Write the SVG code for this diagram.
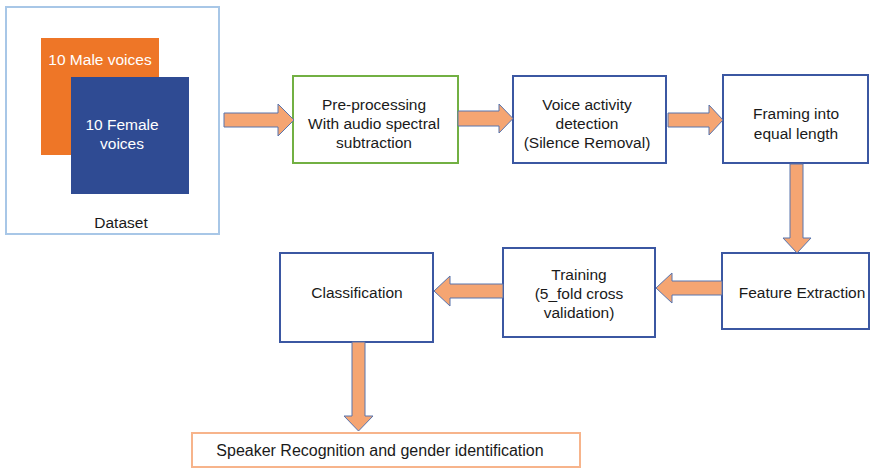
<svg xmlns="http://www.w3.org/2000/svg" width="883" height="469" viewBox="0 0 883 469">
<style>
text{font-family:"Liberation Sans",Arial,sans-serif;font-size:15.5px;fill:#1a1a1a;text-anchor:middle}
.w{fill:#ffffff}
.box{fill:#ffffff;stroke:#3b57a2;stroke-width:2}
.arrow{fill:#f5a572;stroke:#5874ad;stroke-width:1}
</style>
<rect width="883" height="469" fill="#ffffff"/>
<g id="dataset">
<rect x="6" y="7" width="213" height="227" fill="#ffffff" stroke="#a8c7e7" stroke-width="2"/>
<g id="male">
<rect x="41" y="38" width="118" height="117" fill="#ee7627"/>
<text class="w" x="100" y="65">10 Male voices</text>
</g>
<g id="female">
<rect x="71" y="77" width="118" height="117" fill="#2f4b93"/>
<text class="w" x="122" y="130">10 Female</text>
<text class="w" x="122" y="149">voices</text>
</g>
<text x="121" y="228">Dataset</text>
</g>
<g id="preprocessing">
<rect x="293" y="76" width="165" height="87" fill="#ffffff" stroke="#72b043" stroke-width="2"/>
<text x="374" y="110">Pre-processing</text>
<text x="374" y="129">With audio spectral</text>
<text x="374" y="148">subtraction</text>
</g>
<g id="vad">
<rect class="box" x="513" y="76" width="153" height="87"/>
<text x="587" y="110">Voice activity</text>
<text x="587" y="129">detection</text>
<text x="587" y="148">(Silence Removal)</text>
</g>
<g id="framing">
<rect class="box" x="723" y="75" width="145" height="88"/>
<text x="796" y="119">Framing into</text>
<text x="796" y="139">equal length</text>
</g>
<g id="feature">
<rect class="box" x="722" y="253" width="147" height="76"/>
<text x="802" y="298">Feature Extraction</text>
</g>
<g id="training">
<rect class="box" x="503" y="248" width="152" height="89"/>
<text x="579" y="280">Training</text>
<text x="579" y="299">(5_fold cross</text>
<text x="579" y="318">validation)</text>
</g>
<g id="classification">
<rect class="box" x="280" y="253" width="153" height="89"/>
<text x="357" y="298">Classification</text>
</g>
<g id="speaker">
<rect x="192" y="433" width="388" height="34" fill="#ffffff" stroke="#f7b48b" stroke-width="2"/>
<text x="380" y="456" style="font-size:16px">Speaker Recognition and gender identification</text>
</g>
<g id="connectors">
<polygon class="arrow" points="224,113 278,113 278,104 294,120 278,136 278,127 224,127"/>
<polygon class="arrow" points="458,111 499,111 499,104 513,118.5 499,133 499,126 458,126"/>
<polygon class="arrow" points="668,113 709,113 709,105 723,120 709,135 709,127 668,127"/>
<polygon class="arrow" points="790,164 803,164 803,238 811,238 797,253 783,238 790,238"/>
<polygon class="arrow" points="722,281 672,281 672,273 656,288 672,303 672,295 722,295"/>
<polygon class="arrow" points="503,284 450,284 450,276 434,291 450,306 450,298 503,298"/>
<polygon class="arrow" points="352,342 365,342 365,416 373,416 358.5,431 344,416 352,416"/>
</g>
</svg>
